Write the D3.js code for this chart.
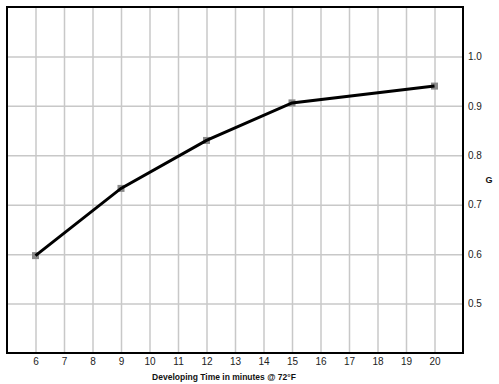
<!DOCTYPE html>
<html lang="en">
<head>
    <meta charset="UTF-8">
    <title>Developing Time vs G</title>
    <style>
        body { margin: 0; background: #fff; }
        .tick text { font-family: "Liberation Sans", Arial, sans-serif; font-size: 10px; fill: #222; }
        .tick line { stroke: #c8c8c8; stroke-width: 1.5; }
        .axis-label { font-family: "Liberation Sans", Arial, sans-serif; font-weight: bold; fill: #111; }
    </style>
</head>
<body>
    <svg width="499" height="384"></svg>
    <script src="https://d3js.org/d3.v7.min.js"></script>
    <script>
        // Data
        const minutes = [6, 9, 12, 15, 20];
        const gValues = [0.597, 0.733, 0.83, 0.906, 0.94];

        const xTicks = [6, 7, 8, 9, 10, 11, 12, 13, 14, 15, 16, 17, 18, 19, 20];
        const yTicks = [0.5, 0.6, 0.7, 0.8, 0.9, 1.0];

        const xLabel = 'Developing Time in minutes @ 72°F';
        const yLabel = 'G';

        // Plot frame
        const frame = { left: 7, top: 7, right: 463, bottom: 353 };

        const svg = d3.select('svg');

        const xScale = d3.scaleLinear()
            .domain([5, 21])
            .range([frame.left, frame.right]);

        const yScale = d3.scaleLinear()
            .domain([0.4, 1.1])
            .range([frame.bottom, frame.top]);

        // x axis with vertical grid lines
        const xAxis = d3.axisBottom(xScale)
            .tickValues(xTicks)
            .tickFormat(d3.format('d'))
            .tickSize(-(frame.bottom - frame.top))
            .tickPadding(5);

        const xAxisG = svg.append('g')
            .attr('transform', 'translate(0,' + frame.bottom + ')')
            .call(xAxis);
        xAxisG.select('.domain').remove();

        // y axis on the right with horizontal grid lines
        const yAxis = d3.axisRight(yScale)
            .tickValues(yTicks)
            .tickFormat(d3.format('.1f'))
            .tickSize(-(frame.right - frame.left))
            .tickPadding(5);

        const yAxisG = svg.append('g')
            .attr('transform', 'translate(' + frame.right + ',0)')
            .call(yAxis);
        yAxisG.select('.domain').remove();

        // axis titles
        svg.append('text')
            .attr('class', 'axis-label')
            .attr('x', 224)
            .attr('y', 380)
            .attr('text-anchor', 'middle')
            .style('font-size', '8.5px')
            .text(xLabel);

        svg.append('text')
            .attr('class', 'axis-label')
            .attr('x', 489)
            .attr('y', 183)
            .attr('text-anchor', 'middle')
            .style('font-size', '9px')
            .text(yLabel);

        const points = minutes.map(function (m, i) {
            return { x: m, y: gValues[i] };
        });

        // markers
        svg.selectAll('rect.marker')
            .data(points)
            .enter()
            .append('rect')
            .attr('class', 'marker')
            .attr('x', function (d) { return xScale(d.x) - 3.5; })
            .attr('y', function (d) { return yScale(d.y) - 3.5; })
            .attr('width', 7)
            .attr('height', 7)
            .attr('fill', '#8a8a8a');

        // line
        const line = d3.line()
            .x(function (d) { return xScale(d.x); })
            .y(function (d) { return yScale(d.y); });

        svg.append('path')
            .datum(points)
            .attr('d', line)
            .attr('fill', 'none')
            .attr('stroke', '#000')
            .attr('stroke-width', 3);

        // frame border
        svg.append('rect')
            .attr('x', frame.left)
            .attr('y', frame.top)
            .attr('width', frame.right - frame.left)
            .attr('height', frame.bottom - frame.top)
            .attr('fill', 'none')
            .attr('stroke', '#000')
            .attr('stroke-width', 2);
    </script>
</body>
</html>
